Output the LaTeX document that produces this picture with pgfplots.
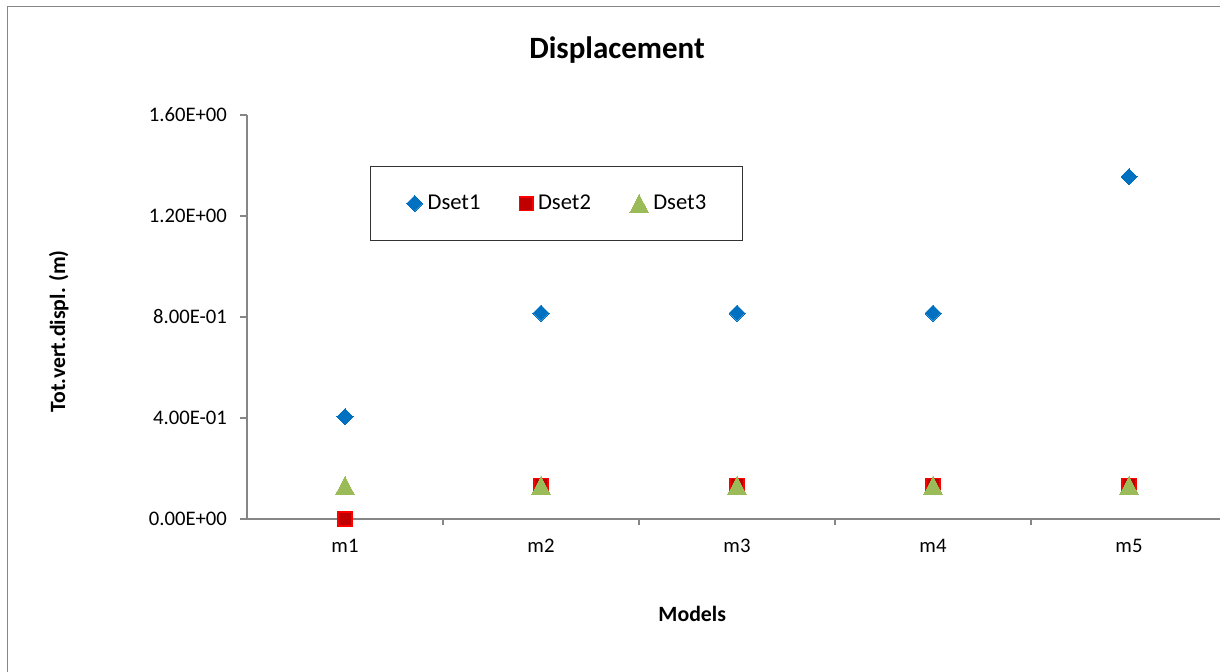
\documentclass[border=0pt]{standalone}
\usepackage{fontspec}
\setmainfont{Carlito}
\usepackage{pgfplots}
\pgfplotsset{compat=1.18}
\definecolor{axgray}{HTML}{868686}
\definecolor{dblue}{HTML}{0070C0}
\definecolor{dred}{HTML}{C00000}
\definecolor{bred}{HTML}{FF0000}
\definecolor{lgreen}{HTML}{9BBB59}
\begin{document}
\begin{tikzpicture}
% picture frame: 1220x672 px at 0.5pt per px
\useasboundingbox (0pt,0pt) rectangle (610pt,336pt);
\draw[axgray, line width=0.6pt] (3.75pt,0pt) -- (3.75pt,332.75pt) -- (610pt,332.75pt);
\begin{axis}[
    at={(123.5pt,76.5pt)}, anchor=south west,
    scale only axis, width=490pt, height=202pt,
    clip=false,
    xmin=-0.5, xmax=4.5, ymin=0, ymax=1.6,
    axis x line=bottom, axis y line=left,
    axis line style={axgray, line width=0.6pt, -},
    xtick={0,1,2,3,4}, xticklabels={m1,m2,m3,m4,m5},
    minor xtick={0.5,1.5,2.5,3.5},
    ytick={0,0.4,0.8,1.2,1.6},
    yticklabels={0.00E+00,4.00E-01,8.00E-01,1.20E+00,1.60E+00},
    tick align=outside, major tick length=3.5pt, minor tick length=3pt,
    every tick/.style={axgray, line width=0.6pt},
    every major x tick/.append style={draw=none},
    tick label style={font=\fontsize{10.35}{12}\selectfont, text=black},
    yticklabel style={xshift=-3pt},
    xticklabel style={yshift=-3pt},
    title={Displacement},
    title style={at={(axis description cs:0.3776,1.1096)}, anchor=base,
        font=\bfseries\fontsize{15.5}{18}\selectfont},
    xlabel={Models},
    xlabel style={at={(axis description cs:0.4543,-0.2525)}, anchor=base,
        font=\bfseries\fontsize{10.9}{13}\selectfont},
    ylabel={Tot.vert.displ. (m)},
    ylabel style={at={(axis description cs:-0.1857,0.4646)}, anchor=base,
        font=\bfseries\fontsize{10.9}{13}\selectfont},
    legend columns=3,
    legend image code/.code={\draw[#1] plot coordinates {(0pt,0pt)};},
    legend style={at={(axis description cs:0.1255,0.8738)}, anchor=north west,
        draw=black!80, line width=0.6pt, inner xsep=18pt, inner ysep=14pt,
        font=\fontsize{11.3}{13}\selectfont,
        nodes={inner sep=0pt}, cells={anchor=west},
        /tikz/every odd column/.append style={column sep=2.5pt},
        /tikz/every even column/.append style={column sep=19.5pt}},
]
\addplot[only marks, mark=square*, mark size=2.83pt,
    mark options={rotate=45, fill=dblue, draw=dblue, line width=0pt}]
    coordinates {(0,0.405) (1,0.815) (2,0.815) (3,0.815) (4,1.356)};
\addlegendentry{Dset1}
\addplot[only marks, mark=square*, mark size=3.4pt,
    mark options={fill=dred, draw=bred, line width=0.8pt}]
    coordinates {(0,0) (1,0.133) (2,0.133) (3,0.133) (4,0.133)};
\addlegendentry{Dset2}
\addplot[only marks, mark=triangle*, mark size=5.3pt,
    mark options={yshift=-1.45pt, yscale=1.12, fill=lgreen, draw=lgreen, line width=0pt}]
    coordinates {(0,0.133) (1,0.133) (2,0.133) (3,0.133) (4,0.133)};
\addlegendentry{Dset3}
\end{axis}
\end{tikzpicture}
\end{document}
